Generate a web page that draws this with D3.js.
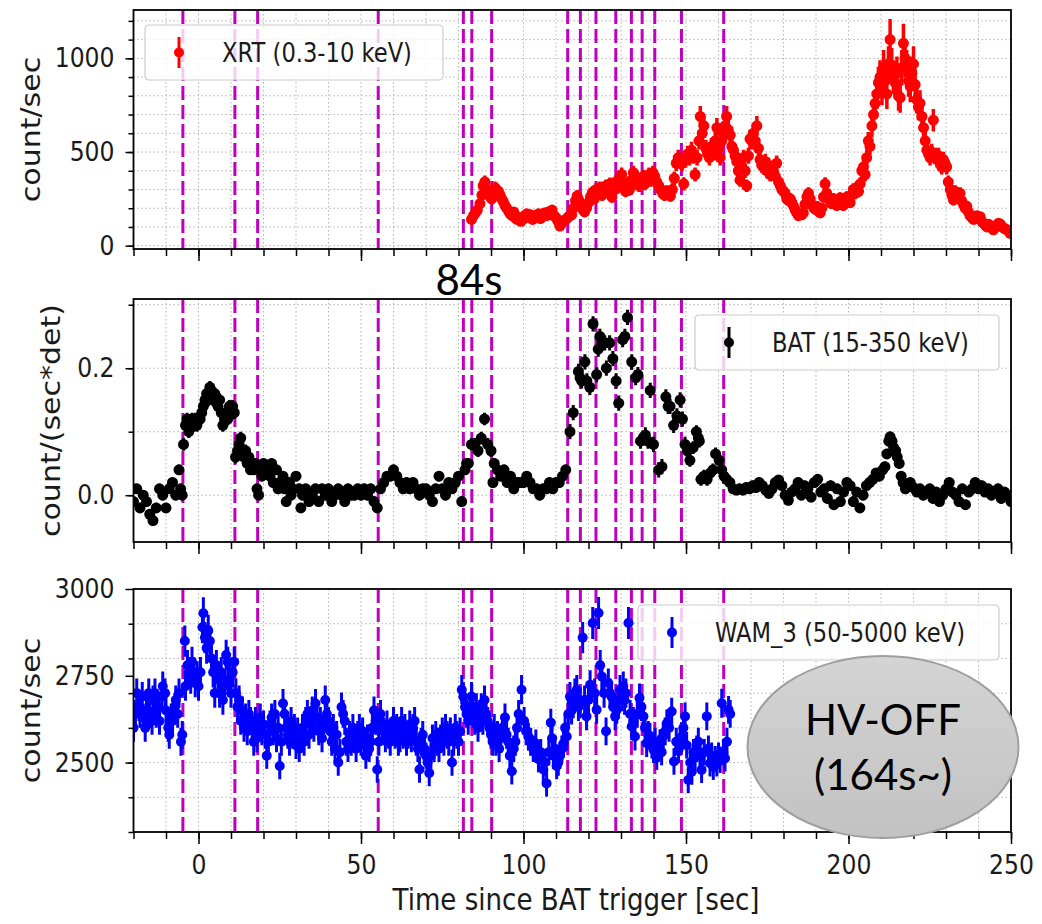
<!DOCTYPE html>
<html>
<head>
<meta charset="utf-8">
<title>XRT / BAT / WAM light curves</title>
<script src="https://cdn.jsdelivr.net/npm/d3@7"></script>
<style>
  body { margin: 0; background: #fff; }
  svg { display: block; }
</style>
</head>
<body>
<svg id="chart" width="1042" height="924"></svg>
<script>
// dashed marker times [sec]
const markerTimes = [-4.8, 11.2, 18.2, 55.3, 81.5, 84.1, 90.2, 113.6, 117.5, 122.3,
  128.4, 133.2, 136.5, 140.4, 148.6, 161.6];

// [time, rate, error]
const xrtData = [
  [84,140,25],[84.6,160,25],[85.2,175,25],[85.8,190,27],[86.6,225,30],[87.2,270,32],[87.6,320,35],
  [88.1,340,35],[88.6,300,33],[89.2,280,32],[89.8,260,30],[90.2,250,30],[90.8,290,32],[91.2,310,33],
  [91.8,280,32],[92.3,290,32],[92.8,270,30],[93.3,250,30],[93.8,235,28],[94.3,215,28],[94.8,200,27],
  [95.4,185,26],[95.9,170,25],[96.5,160,25],[97,180,25],[97.4,150,24],[98,140,24],[98.6,150,24],
  [99.2,130,23],[99.8,140,24],[100.4,160,24],[101,170,25],[101.6,150,24],[102.2,165,25],[102.8,140,24],
  [103.4,160,24],[104,150,24],[104.6,170,25],[105.2,145,24],[105.8,155,24],[106.4,175,25],[107,160,25],
  [107.6,180,25],[108.2,165,25],[108.8,190,26],[109.4,160,25],[110,150,24],[110.6,130,23],[111.2,105,22],
  [111.8,120,22],[112.4,135,23],[113,140,24],[113.6,150,24],[114.2,160,25],[114.8,165,25],[115.4,200,27],
  [116,240,30],[116.5,265,32],[117,245,30],[117.6,215,28],[118.2,195,27],[118.8,180,26],[119.4,200,27],
  [120,230,29],[120.6,260,31],[121.2,285,32],[121.8,250,30],[122.4,300,33],[123,280,32],[123.6,310,33],
  [124.2,270,31],[124.8,295,32],[125.4,320,34],[126,290,32],[126.6,330,34],[127.2,260,31],[127.8,300,33],
  [128.4,340,35],[129,310,33],[129.6,360,36],[130.2,380,37],[130.8,310,33],[131.4,290,32],[132,330,34],
  [132.6,300,33],[133.2,350,35],[133.8,390,37],[134.4,340,35],[135,360,36],[135.6,320,34],[136.2,350,35],
  [136.8,370,36],[137.4,330,34],[138,360,36],[138.6,380,37],[139.2,350,35],[139.8,390,37],[140.4,370,36],
  [141,340,35],[141.6,320,34],[142.2,300,33],[142.8,280,32],[143.4,270,31],[144,290,32],[144.6,280,32],
  [145.2,265,31],[145.8,300,33],[146.4,360,36],[147,440,41],[147.6,470,42],[148.2,450,41],[148.8,440,41],
  [149.3,330,35],[149.9,460,42],[150.5,490,44],[151.1,470,42],[151.7,510,45],[152.3,480,43],[152.8,380,38],
  [153.4,470,42],[154,560,47],[154.4,690,55],[155,600,50],[155.5,640,52],[156.1,520,45],[156.6,490,44],
  [157.2,470,42],[157.8,530,45],[158.4,500,44],[159,560,47],[159.5,630,52],[160,520,45],[160.5,470,42],
  [161,560,47],[161.5,600,50],[162,640,52],[162.5,690,55],[163,620,50],[163.6,590,49],[164.1,530,45],
  [164.6,510,45],[165.1,480,43],[165.6,450,41],[166.1,400,39],[166.6,350,36],[167.2,420,40],[167.7,470,42],
  [168.2,400,39],[168.7,320,34],[169.2,480,43],[169.7,570,48],[170.2,560,47],[170.7,600,50],[171.3,560,47],
  [171.8,640,52],[172.3,520,45],[172.8,460,42],[173.3,430,40],[173.8,420,40],[174.4,450,41],[174.9,400,39],
  [175.4,430,40],[175.9,380,38],[176.4,410,39],[177,390,38],[177.5,370,37],[177.9,440,41],[178.5,340,35],
  [179,320,34],[179.5,300,33],[180,290,32],[180.5,280,32],[181,250,30],[181.6,240,30],[182.1,250,30],
  [182.6,230,29],[183.1,210,28],[183.6,190,27],[184.1,175,26],[184.6,160,25],[185.1,170,25],[185.6,165,25],
  [186.1,175,26],[186.6,220,28],[187.2,260,31],[187.7,280,32],[188.2,250,30],[188.7,220,28],[189.2,205,28],
  [189.7,195,27],[190.2,210,28],[190.7,185,26],[191.3,175,26],[191.8,200,27],[192.3,260,31],[192.8,330,35],
  [193.3,280,32],[193.8,250,30],[194.3,240,30],[194.8,225,29],[195.4,250,30],[195.9,230,29],[196.4,215,28],
  [196.9,240,30],[197.4,255,30],[197.9,230,29],[198.4,215,28],[199,240,30],[199.5,260,31],[200,245,30],
  [200.5,230,29],[201,270,31],[201.5,300,33],[202,280,32],[202.5,310,33],[203.1,290,32],[203.6,330,35],
  [204.1,400,39],[204.6,420,40],[205.1,380,38],[205.6,470,42],[206.1,560,47],[206.6,530,45],[207.2,640,60],
  [207.7,700,65],[208.2,760,70],[208.7,810,80],[209.2,870,85],[209.7,900,90],[210.3,830,80],[210.8,950,95],
  [211.3,880,85],[211.8,810,80],[212.3,970,95],[212.8,1100,110],[213.3,960,95],[213.8,900,90],[214.4,870,85],
  [214.9,920,90],[215.4,800,80],[215.9,790,80],[216.4,950,95],[216.9,1080,105],[217.4,1000,100],[217.9,950,95],
  [218.5,880,85],[219,850,85],[219.5,920,90],[220,970,95],[220.5,860,85],[221,780,75],[221.5,740,70],
  [222,760,70],[222.6,690,65],[223.1,630,55],[223.6,560,48],[224.1,510,45],[224.6,490,44],[225.1,470,42],
  [225.6,500,44],[226.1,670,60],[226.7,480,43],[227.2,460,42],[227.7,480,43],[228.2,450,41],[228.7,420,40],
  [229.2,460,42],[229.7,440,41],[230.2,420,40],[230.7,340,35],[231.3,300,33],[231.8,270,31],[232.3,245,30],
  [232.8,290,32],[233.3,260,31],[233.8,270,31],[234.3,280,32],[234.8,240,30],[235.4,220,28],[235.9,200,27],
  [236.4,210,28],[236.9,180,26],[237.4,160,25],[238,150,24],[238.5,140,24],[239,155,24],[239.5,160,25],
  [240,145,24],[240.5,155,24],[241,130,23],[241.5,120,22],[242.1,110,22],[242.6,100,21],[243.1,115,22],
  [243.6,105,22],[244.1,95,21],[244.6,85,20],[245.1,100,21],[245.6,110,22],[246.2,120,22],[246.7,115,22],
  [247.2,100,21],[247.7,95,21],[248.2,90,21],[248.7,85,20],[249.2,80,20],[249.7,66,20]
];

const batData = [
  [-20,-0.01,0.008],[-19,0.01,0.008],[-18,-0.02,0.008],[-17,0.0,0.008],[-16,-0.01,0.008],[-15,-0.03,0.008],
  [-14,-0.04,0.008],[-13,-0.02,0.008],[-12,0.01,0.008],[-11,0.0,0.008],[-10,-0.02,0.008],[-9,0.01,0.008],
  [-8,0.02,0.008],[-7,0.0,0.008],[-6,0.04,0.008],[-5.5,0.01,0.008],[-5,0.0,0.008],[-4.6,0.08,0.01],
  [-4,0.11,0.01],[-3.5,0.12,0.01],[-3,0.1,0.01],[-2.5,0.11,0.01],[-2,0.12,0.01],[-1.5,0.11,0.01],
  [-1,0.12,0.01],[-0.5,0.11,0.01],[0,0.12,0.01],[0.5,0.12,0.01],[1,0.13,0.01],[1.5,0.14,0.01],
  [2,0.15,0.01],[2.5,0.16,0.01],[3,0.15,0.01],[3.5,0.17,0.01],[4,0.16,0.01],[4.5,0.15,0.01],
  [5,0.16,0.01],[5.5,0.15,0.01],[6,0.14,0.01],[6.5,0.15,0.01],[7,0.13,0.01],[7.5,0.11,0.01],
  [8,0.12,0.01],[8.5,0.13,0.01],[9,0.12,0.01],[9.5,0.14,0.01],[10,0.13,0.01],[10.5,0.14,0.01],
  [11,0.13,0.01],[11.4,0.06,0.01],[12,0.07,0.01],[12.5,0.08,0.01],[13,0.09,0.01],[13.5,0.07,0.01],
  [14,0.06,0.01],[14.5,0.07,0.01],[15,0.05,0.01],[15.5,0.06,0.01],[16,0.04,0.008],[16.5,0.05,0.008],
  [17,0.04,0.008],[17.5,0.05,0.008],[18,0.01,0.008],[18.5,0.0,0.008],[19,0.04,0.008],[19.5,0.03,0.008],
  [20,0.05,0.008],[21,0.04,0.008],[22,0.03,0.008],[22.5,0.05,0.008],[23,0.02,0.008],[24,0.04,0.008],
  [24.5,0.01,0.008],[25,0.02,0.008],[26,0.03,0.008],[26.5,0.01,0.008],[27,-0.01,0.008],[28,0.02,0.008],
  [28.5,0.0,0.008],[29,0.01,0.008],[30,0.03,0.008],[31,0.01,0.008],[31.5,-0.02,0.008],[32,0.0,0.008],
  [33,0.01,0.008],[34,-0.01,0.008],[35,0.0,0.008],[36,0.01,0.008],[37,-0.01,0.008],[38,0.01,0.008],
  [39,0.0,0.008],[40,0.01,0.008],[41,-0.01,0.008],[42,0.0,0.008],[43,0.01,0.008],[44,0.0,0.008],
  [45,-0.01,0.008],[46,0.01,0.008],[47,0.0,0.008],[48,0.0,0.008],[49,0.01,0.008],[50,0.0,0.008],
  [51,0.01,0.008],[52,0.0,0.008],[53,0.01,0.008],[54,-0.01,0.008],[55,-0.02,0.008],[56,0.01,0.008],
  [57,0.02,0.008],[58,0.03,0.008],[59,0.03,0.008],[60,0.04,0.008],[61,0.03,0.008],[62,0.02,0.008],
  [63,0.01,0.008],[64,0.02,0.008],[65,0.01,0.008],[66,0.02,0.008],[67,0.01,0.008],[68,0.0,0.008],
  [69,0.01,0.008],[70,0.01,0.008],[71,0.0,0.008],[72,-0.01,0.008],[73,0.01,0.008],[74,0.03,0.008],
  [75,0.01,0.008],[76,0.0,0.008],[77,0.02,0.008],[78,0.01,0.008],[79,0.02,0.008],[80,0.03,0.008],
  [81,-0.01,0.008],[82,0.04,0.008],[82.5,0.05,0.008],[83,0.05,0.008],[84,0.08,0.01],[85,0.08,0.01],
  [86,0.07,0.01],[87,0.09,0.01],[88,0.12,0.01],[89,0.08,0.01],[90,0.07,0.01],[90.6,0.02,0.008],
  [91,0.05,0.008],[92,0.04,0.008],[93,0.03,0.008],[94,0.04,0.008],[95,0.02,0.008],[96,0.03,0.008],
  [97,0.01,0.008],[98,0.02,0.008],[99,0.02,0.008],[100,0.02,0.008],[101,0.03,0.008],[102,0.02,0.008],
  [103,0.01,0.008],[104,0.01,0.008],[105,0.0,0.008],[106,0.01,0.008],[107,0.01,0.008],[108,0.02,0.008],
  [109,0.01,0.008],[110,0.02,0.008],[111,0.02,0.008],[112,0.03,0.008],[113,0.04,0.008],[114.3,0.1,0.012],
  [115.3,0.13,0.012],[116.9,0.195,0.012],[117.4,0.185,0.012],[117.9,0.18,0.012],[118.9,0.21,0.012],
  [119.5,0.18,0.012],[120.4,0.17,0.012],[121.4,0.27,0.012],[122.5,0.19,0.012],[123,0.23,0.012],
  [123.5,0.25,0.012],[124.2,0.24,0.012],[125,0.24,0.012],[125.5,0.2,0.012],[126.5,0.24,0.012],
  [127.5,0.215,0.012],[128.5,0.18,0.012],[129.3,0.145,0.012],[130.5,0.245,0.012],[131.2,0.25,0.012],
  [132,0.28,0.012],[133.3,0.21,0.012],[134.5,0.185,0.012],[135.2,0.19,0.012],[136,0.085,0.012],
  [136.8,0.09,0.012],[137.5,0.095,0.012],[138.3,0.085,0.012],[139,0.165,0.012],[140,0.08,0.012],
  [141.6,0.04,0.012],[142.6,0.045,0.012],[143.8,0.155,0.012],[144.5,0.14,0.012],[145.1,0.14,0.012],
  [146.2,0.11,0.012],[147.2,0.125,0.012],[148.2,0.15,0.012],[148.9,0.12,0.012],[149.7,0.08,0.012],
  [150.4,0.07,0.01],[151.2,0.055,0.01],[152.2,0.075,0.01],[153.2,0.1,0.01],[153.8,0.09,0.01],
  [154.1,0.085,0.01],[154.6,0.025,0.01],[155.5,0.03,0.01],[156.5,0.025,0.01],[157.5,0.035,0.01],
  [158.3,0.04,0.01],[159.1,0.065,0.01],[160.2,0.055,0.01],[161,0.04,0.01],[161.7,0.03,0.01],
  [162.5,0.025,0.008],[163.5,0.02,0.008],[164.5,0.01,0.008],[165.5,0.008,0.008],[166.5,0.01,0.008],
  [167.5,0.008,0.008],[168.5,0.012,0.008],[169.5,0.01,0.008],[170.5,0.015,0.008],[171.5,0.012,0.008],
  [172.5,0.02,0.008],[173.5,0.015,0.008],[174.5,0.008,0.008],[175.5,0.003,0.008],[176.5,0.01,0.008],
  [177.5,0.02,0.008],[178.5,0.024,0.008],[179.5,0.015,0.008],[180.5,0.0,0.008],[181.5,-0.008,0.008],
  [182.5,0.005,0.008],[183.5,0.01,0.008],[184.5,0.02,0.008],[185.5,0.0,0.008],[186.5,0.015,0.008],
  [187.5,0.01,0.008],[188.5,-0.003,0.008],[189.5,0.02,0.008],[190.5,0.025,0.008],[191.5,0.005,0.008],
  [192.5,0.01,0.008],[193.5,-0.005,0.008],[194.5,0.015,0.008],[195.5,-0.015,0.008],[196.5,0.01,0.008],
  [197.5,-0.01,0.008],[198.5,0.005,0.008],[199.5,0.02,0.008],[200.5,0.015,0.008],[201.5,-0.01,0.008],
  [202.5,0.005,0.008],[203.5,-0.02,0.008],[204.5,0.0,0.008],[205.5,0.015,0.008],[206.5,0.02,0.008],
  [207.5,0.025,0.008],[208.5,0.035,0.008],[209.5,0.03,0.008],[210.5,0.04,0.008],[211.2,0.045,0.008],
  [211.8,0.065,0.008],[212.4,0.085,0.008],[212.8,0.092,0.008],[213.4,0.085,0.008],[213.9,0.075,0.008],
  [214.5,0.07,0.008],[215,0.06,0.008],[215.6,0.05,0.008],[216.2,0.03,0.008],[216.8,0.02,0.008],
  [217.5,0.01,0.008],[218.2,0.015,0.008],[219,0.02,0.008],[220,0.012,0.008],[221,0.005,0.008],
  [222,0.01,0.008],[223,0.0,0.008],[224,0.005,0.008],[225,0.01,0.008],[226,-0.005,0.008],[227,0.005,0.008],
  [228,-0.01,0.008],[229,0.0,0.008],[230,0.01,0.008],[231,0.02,0.008],[232,0.005,0.008],[233,0.0,0.008],
  [234,-0.01,0.008],[235,0.01,0.008],[236,-0.015,0.008],[237,0.005,0.008],[238,0.01,0.008],[239,0.02,0.008],
  [240,0.01,0.008],[241,0.015,0.008],[242,0.005,0.008],[243,0.01,0.008],[244,0.0,0.008],[245,0.005,0.008],
  [246,0.01,0.008],[247,-0.005,0.008],[248,0.005,0.008],[249,0.0,0.008],[250,-0.01,0.008]
];

const wamData = [
  [-20,2600,40],[-19.4,2640,40],[-19,2700,42],[-18.3,2660,40],[-18,2640,40],[-17.3,2690,42],[-17,2630,40],
  [-16.4,2600,40],[-16,2650,40],[-15.3,2700,42],[-15,2640,40],[-14.3,2620,40],[-14,2680,42],[-13.4,2700,42],
  [-13,2640,40],[-12.3,2660,40],[-12,2620,40],[-11.3,2690,42],[-11,2720,42],[-10.3,2700,42],[-10,2650,40],
  [-9.3,2600,40],[-9,2580,40],[-8.4,2630,40],[-8,2620,40],[-7.3,2660,40],[-7,2680,42],[-6.4,2640,40],
  [-6,2700,42],[-5.4,2560,40],[-5,2580,40],[-4.2,2850,45],[-4,2720,42],[-3.4,2780,44],[-3,2760,44],
  [-2.4,2740,42],[-2,2790,44],[-1.4,2760,44],[-1,2730,42],[-0.4,2750,42],[0,2720,42],[0.6,2760,44],
  [1.2,2890,46],[1.5,2930,46],[2,2860,45],[2.5,2830,45],[3,2880,46],[3.5,2850,45],[4,2800,44],
  [4.5,2760,44],[5,2700,42],[5.5,2780,44],[6,2740,42],[6.5,2700,42],[7,2760,44],[7.5,2680,42],
  [8,2720,42],[8.5,2810,44],[9,2790,44],[9.5,2740,42],[10,2700,42],[10.5,2760,44],[11,2790,44],
  [11.5,2700,42],[12,2660,40],[12.5,2680,42],[13,2620,40],[13.5,2650,40],[14,2600,40],[14.5,2630,40],
  [15,2590,40],[15.5,2640,40],[16,2620,40],[16.5,2600,40],[17,2560,40],[17.5,2620,40],[18,2570,40],
  [18.5,2600,40],[19,2630,40],[19.5,2590,40],[20,2610,40],[20.5,2580,40],[21,2520,38],[21.5,2560,40],
  [22,2610,40],[22.5,2630,40],[23,2590,40],[23.5,2640,40],[24,2570,40],[24.5,2600,40],[25,2490,38],
  [25.5,2560,40],[26,2670,42],[26.5,2640,40],[27,2600,40],[27.5,2580,40],[28,2560,40],[28.5,2620,40],
  [29,2580,40],[29.5,2600,40],[30,2550,40],[30.5,2590,40],[31,2540,38],[31.5,2570,40],[32,2600,40],
  [32.5,2560,40],[33,2620,40],[33.5,2640,40],[34,2580,40],[34.5,2610,40],[35,2650,40],[35.5,2600,40],
  [36,2670,42],[36.5,2630,40],[37,2590,40],[37.5,2620,40],[38,2570,40],[38.5,2600,40],[39,2680,42],
  [39.5,2640,40],[40,2620,40],[40.5,2590,40],[41,2560,40],[41.5,2600,40],[42,2540,38],[42.5,2580,40],
  [43,2500,38],[43.5,2530,38],[44,2660,42],[44.5,2640,40],[45,2620,40],[45.5,2560,40],[46,2540,38],
  [46.5,2580,40],[47,2560,40],[47.5,2600,40],[48,2570,40],[48.5,2540,38],[49,2580,40],[49.5,2600,40],
  [50,2560,40],[50.5,2590,40],[51,2550,40],[51.5,2520,38],[52,2570,40],[52.5,2540,38],[53,2560,40],
  [53.5,2600,40],[54,2650,40],[54.5,2620,40],[55,2480,38],[55.5,2560,40],[56,2640,40],[56.5,2600,40],
  [57,2590,40],[57.5,2570,40],[58,2610,40],[58.5,2580,40],[59,2560,40],[59.5,2590,40],[60,2620,40],
  [60.5,2580,40],[61,2600,40],[61.5,2560,40],[62,2570,40],[62.5,2620,40],[63,2580,40],[63.5,2600,40],
  [64,2560,40],[64.5,2580,40],[65,2610,40],[65.5,2570,40],[66,2600,40],[66.5,2620,40],[67,2560,40],
  [67.5,2540,38],[68,2480,38],[68.5,2560,40],[69,2580,40],[69.5,2540,38],[70,2520,38],[70.5,2500,38],
  [71,2470,38],[71.5,2520,38],[72,2570,40],[72.5,2540,38],[73,2580,40],[73.5,2560,40],[74,2540,38],
  [74.5,2570,40],[75,2590,40],[75.5,2560,40],[76,2600,40],[76.5,2580,40],[77,2560,40],[77.5,2590,40],
  [78,2500,38],[78.5,2560,40],[79,2600,40],[79.5,2580,40],[80,2560,40],[80.5,2590,40],[81,2710,42],
  [81.5,2690,42],[82,2660,40],[82.5,2640,40],[83,2620,40],[83.5,2660,40],[84,2690,42],[84.5,2640,40],
  [85,2620,40],[85.5,2660,40],[86,2600,40],[86.5,2640,40],[87,2660,40],[87.5,2620,40],[88,2680,42],
  [88.5,2640,40],[89,2620,40],[89.5,2600,40],[90,2580,40],[90.5,2560,40],[91,2600,40],[91.5,2560,40],
  [92,2580,40],[92.5,2540,38],[93,2570,40],[93.5,2600,40],[94.3,2630,40],[94.8,2580,40],[95.3,2560,40],
  [95.8,2520,38],[96.4,2475,38],[97,2540,38],[97.5,2560,40],[98,2600,40],[98.5,2640,40],[99.4,2710,42],
  [100.2,2620,40],[100.8,2590,40],[101.5,2575,40],[102.2,2560,40],[103,2540,38],[103.8,2555,40],
  [104.6,2510,38],[105.3,2530,38],[106.1,2480,38],[106.6,2500,38],[107.1,2440,38],[107.8,2530,38],
  [108.4,2615,40],[108.8,2570,40],[109.2,2520,38],[109.7,2540,38],[110.2,2490,38],[110.7,2500,38],
  [111.2,2520,38],[111.8,2540,38],[112.3,2555,40],[112.8,2600,40],[113.3,2575,40],[113.8,2640,40],
  [114.3,2690,42],[114.8,2650,40],[115.3,2670,42],[115.8,2700,42],[116.4,2710,42],[116.9,2660,40],
  [117.4,2670,42],[118.2,2860,45],[118.8,2680,42],[119.4,2633,40],[120,2680,42],[120.5,2724,42],
  [121.3,2902,46],[121.9,2700,42],[122.5,2652,40],[123.1,2931,46],[123.6,2780,44],[124.1,2748,44],
  [124.8,2700,42],[125.4,2590,40],[126.1,2729,42],[126.6,2700,42],[127.1,2690,42],[127.6,2660,40],
  [128.2,2633,40],[128.7,2652,40],[129.2,2680,42],[129.7,2710,42],[130.2,2690,42],[130.7,2720,42],
  [131.1,2680,42],[131.5,2700,42],[132.3,2902,46],[132.8,2640,40],[133.3,2604,40],[133.8,2620,40],
  [134.3,2575,40],[135,2640,40],[135.7,2686,42],[136.3,2660,40],[136.9,2633,40],[137.4,2600,40],
  [137.9,2556,40],[138.4,2580,40],[138.9,2575,40],[139.5,2550,38],[140,2537,38],[140.5,2560,40],
  [141,2517,38],[141.5,2540,38],[142,2556,40],[142.5,2530,38],[143,2575,40],[143.6,2590,40],
  [144.1,2613,40],[144.8,2600,40],[145.6,2647,40],[146.3,2503,38],[147,2560,40],[147.7,2537,38],
  [148.2,2560,40],[148.7,2575,40],[149.2,2600,40],[149.7,2633,40],[150.2,2550,38],[150.7,2450,38],
  [151.3,2500,38],[151.8,2474,38],[152.3,2530,38],[152.8,2517,38],[153.3,2540,38],[153.8,2560,40],
  [154.3,2520,38],[154.8,2479,38],[155.6,2530,38],[156.4,2633,40],[156.9,2540,38],[157.4,2498,38],
  [157.9,2520,38],[158.4,2488,38],[159,2510,38],[159.5,2498,38],[160,2520,38],[160.5,2508,38],
  [161,2671,42],[161.5,2530,38],[162,2512,38],[162.6,2560,40],[163.1,2652,40],[163.6,2640,40]
];

const seriesNames = ["XRT (0.3-10 keV)", "BAT (15-350 keV)", "WAM_3 (50-5000 keV)"];
const yLabels = ["count/sec", "count/(sec*det)", "count/sec"];
const xLabel = "Time since BAT trigger [sec]";

const xMajor = [0, 50, 100, 150, 200, 250];
const xMinor = [-20, -10, 0, 10, 20, 30, 40, 50, 60, 70, 80, 90, 100, 110, 120, 130, 140,
  150, 160, 170, 180, 190, 200, 210, 220, 230, 240, 250];
const xrtMajor = [0, 500, 1000];
const xrtMinor = [0, 100, 200, 300, 400, 500, 600, 700, 800, 900, 1000, 1100, 1200];
const batMajor = [0.0, 0.2];
const batMinor = [0.0, 0.1, 0.2, 0.3];
const wamMajor = [2500, 2750, 3000];
const wamMinor = [2300, 2400, 2500, 2600, 2700, 2800, 2900];

// the matplotlib figure was pasted horizontally squeezed
const squeeze = 0.87;
const plotLeft = 133.5, plotRight = 1011;
const tickFont = "DejaVu Sans";
const slideFont = "Lato";

const svg = d3.select("#chart");

const x = d3.scaleLinear().domain([-20, 250]).range([plotLeft, plotRight]);

const panels = [
  { data: xrtData, color: "#ff0000", top: 10, bottom: 249, domain: [-17.6, 1258],
    major: xrtMajor, minor: xrtMinor, fmt: d3.format("d"), labelX: 39.5,
    r: 5.5, errWidth: 3.5, legend: { x: 145, y: 25, w: 298 } },
  { data: batData, color: "#000000", top: 299, bottom: 542, domain: [-0.0737, 0.309],
    major: batMajor, minor: batMinor, fmt: d3.format(".1f"), labelX: 59.5,
    r: 5.5, errWidth: 3, legend: { x: 695, y: 315, w: 304 } },
  { data: wamData, color: "#0000ff", top: 589, bottom: 832, domain: [2300, 3000],
    major: wamMajor, minor: wamMinor, fmt: d3.format("d"), labelX: 39.5,
    r: 5, errWidth: 3, legend: { x: 638, y: 605, w: 361 } }
];

const defs = svg.append("defs");

panels.forEach((p, i) => {
  const y = d3.scaleLinear().domain(p.domain).range([p.bottom, p.top]);
  const g = svg.append("g");

  defs.append("clipPath").attr("id", "clip" + i)
    .append("rect")
    .attr("x", plotLeft).attr("y", p.top)
    .attr("width", plotRight - plotLeft).attr("height", p.bottom - p.top);

  // dotted grid on the minor ticks
  const grid = g.append("g")
    .attr("stroke", "#b4b4b4").attr("stroke-width", 1).attr("stroke-dasharray", "1.5,2.5");
  grid.append("g").selectAll("line").data(xMinor).join("line")
    .attr("x1", d => x(d)).attr("x2", d => x(d))
    .attr("y1", p.top).attr("y2", p.bottom);
  grid.append("g").selectAll("line").data(p.minor).join("line")
    .attr("x1", plotLeft).attr("x2", plotRight)
    .attr("y1", d => y(d)).attr("y2", d => y(d));

  // dashed markers
  g.append("g").selectAll("line").data(markerTimes).join("line")
    .attr("x1", d => x(d)).attr("x2", d => x(d))
    .attr("y1", p.top).attr("y2", p.bottom)
    .attr("stroke", "#bf00bf").attr("stroke-width", 3).attr("stroke-dasharray", "14,5");

  // error bars and points
  const dg = g.append("g").attr("clip-path", `url(#clip${i})`);
  dg.append("g").selectAll("line").data(p.data).join("line")
    .attr("x1", d => x(d[0])).attr("x2", d => x(d[0]))
    .attr("y1", d => y(d[1] - d[2])).attr("y2", d => y(d[1] + d[2]))
    .attr("stroke", p.color).attr("stroke-width", p.errWidth);
  dg.append("g").selectAll("circle").data(p.data).join("circle")
    .attr("cx", d => x(d[0])).attr("cy", d => y(d[1]))
    .attr("r", p.r).attr("fill", p.color);

  // frame
  g.append("rect")
    .attr("x", plotLeft).attr("y", p.top)
    .attr("width", plotRight - plotLeft).attr("height", p.bottom - p.top)
    .attr("fill", "none").attr("stroke", "#000").attr("stroke-width", 1.8);

  const styleAxis = a => {
    a.select(".domain").remove();
    a.attr("font-family", tickFont).attr("font-size", 27);
    a.selectAll(".tick line").attr("stroke", "#000").attr("stroke-width", 1.5);
    a.selectAll(".tick text").attr("fill", "#1a1a1a");
  };

  // x axis
  const showLabels = i === panels.length - 1;
  g.append("g").attr("transform", `translate(0,${p.bottom})`)
    .call(d3.axisBottom(x).tickValues(xMinor).tickSize(7).tickFormat(""))
    .call(styleAxis);
  g.append("g").attr("transform", `translate(0,${p.bottom})`)
    .call(d3.axisBottom(x).tickValues(xMajor).tickSize(12).tickPadding(10.5)
      .tickFormat(showLabels ? d3.format("d") : ""))
    .call(styleAxis)
    .call(a => a.selectAll(".tick text").attr("transform", `scale(${squeeze},1)`));

  // y axis
  g.append("g").attr("transform", `translate(${plotLeft},0)`)
    .call(d3.axisLeft(y).tickValues(p.minor).tickSize(5).tickFormat(""))
    .call(styleAxis);
  g.append("g").attr("transform", `translate(${plotLeft},0)`)
    .call(d3.axisLeft(y).tickValues(p.major).tickSize(8).tickFormat(p.fmt))
    .call(styleAxis)
    .call(a => a.selectAll(".tick text")
      .attr("x", -19 / squeeze)
      .attr("transform", `scale(${squeeze},1)`));

  g.append("text")
    .attr("transform", `translate(${p.labelX},${(p.top + p.bottom) / 2}) scale(${squeeze},1) rotate(-90)`)
    .attr("text-anchor", "middle")
    .attr("font-family", tickFont).attr("font-size", 30).attr("fill", "#1a1a1a")
    .text(yLabels[i]);

  // legend
  const lg = g.append("g").attr("transform", `translate(${p.legend.x},${p.legend.y})`);
  lg.append("rect")
    .attr("width", p.legend.w).attr("height", 55).attr("rx", 4)
    .attr("fill", "#fff").attr("fill-opacity", 0.8)
    .attr("stroke", "#cccccc").attr("stroke-width", 1.2);
  lg.append("line")
    .attr("x1", 34).attr("x2", 34).attr("y1", 12).attr("y2", 43)
    .attr("stroke", p.color).attr("stroke-width", 3);
  lg.append("circle").attr("cx", 34).attr("cy", 27.5).attr("r", 5).attr("fill", p.color);
  lg.append("text")
    .attr("transform", `translate(77,27.5) scale(${squeeze},1)`)
    .attr("dy", "0.36em")
    .attr("font-family", tickFont).attr("font-size", 26).attr("fill", "#1a1a1a")
    .text(seriesNames[i]);
});

svg.append("text")
  .attr("transform", `translate(576,910) scale(${squeeze},1)`)
  .attr("text-anchor", "middle")
  .attr("font-family", tickFont).attr("font-size", 30).attr("fill", "#1a1a1a")
  .text(xLabel);

// slide annotations
svg.append("text")
  .attr("x", 469).attr("y", 295)
  .attr("text-anchor", "middle")
  .attr("font-family", slideFont).attr("font-size", 42).attr("fill", "#000")
  .text("84s");

const grad = defs.append("linearGradient").attr("id", "hvFill")
  .attr("x1", 0).attr("y1", 0).attr("x2", 0).attr("y2", 1);
grad.append("stop").attr("offset", "0%").attr("stop-color", "#d4d4d4");
grad.append("stop").attr("offset", "100%").attr("stop-color", "#c2c2c2");

const hv = svg.append("g");
hv.append("ellipse")
  .attr("cx", 883).attr("cy", 747).attr("rx", 135.5).attr("ry", 91)
  .attr("fill", "url(#hvFill)").attr("stroke", "#9e9e9e").attr("stroke-width", 2);
hv.selectAll("text").data(["HV-OFF", "(164s~)"]).join("text")
  .attr("x", 883).attr("y", (d, k) => 735 + k * 55)
  .attr("text-anchor", "middle")
  .attr("font-family", slideFont).attr("font-size", 42).attr("fill", "#000")
  .text(d => d);
</script>
</body>
</html>
